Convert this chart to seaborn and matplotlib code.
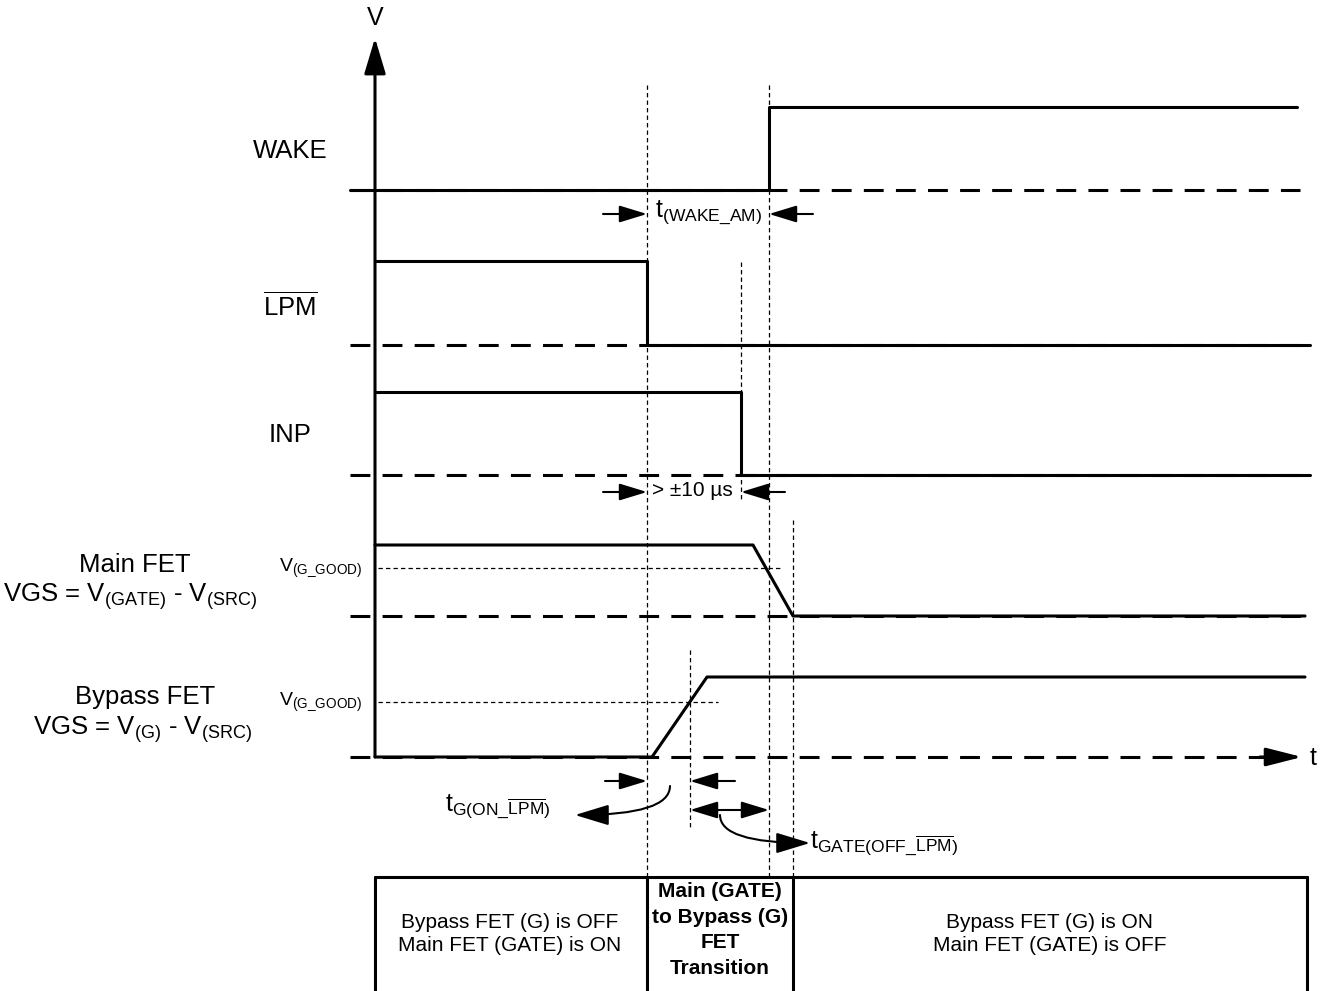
import numpy as np
import pandas as pd
import matplotlib
matplotlib.use('Agg')
import matplotlib.pyplot as plt
import seaborn as sns

# --- waveform data (time in drawing units, level 0 = low, 1 = high) ---
lanes = ['WAKE', 'LPM', 'INP', 'Main FET', 'Bypass FET']
lane_base = [190, 345, 475, 616, 757]
lane_high = [107, 261, 392, 545, 677]

wake_t = [350, 769, 769, 1297]
wake_v = [0, 0, 1, 1]
lpm_t = [375, 647, 647, 1310]
lpm_v = [1, 1, 0, 0]
inp_t = [375, 741, 741, 1310]
inp_v = [1, 1, 0, 0]
gate_t = [375, 753, 793, 1305]
gate_v = [1, 1, 0, 0]
g_t = [375, 652, 707, 1305]
g_v = [0, 0, 1, 1]
g_good = [0.68, 0.69]          # V(G_GOOD) threshold as fraction of high level
baseline_end = [1300, 1310, 1310, 1305, 1275]

# timing markers
t_lpm, t_g_good, t_inp, t_wake, t_gate_off = 647, 690, 741, 769, 793
t_origin = 375

sns.set_theme(style='white')
plt.rcParams['font.family'] = ['Liberation Sans', 'DejaVu Sans']
plt.rcParams['text.color'] = 'black'
plt.rcParams['mathtext.fontset'] = 'custom'
plt.rcParams['mathtext.rm'] = 'Liberation Sans'
plt.rcParams['mathtext.it'] = 'Liberation Sans:italic'
plt.rcParams['mathtext.bf'] = 'Liberation Sans:bold'

fig = plt.figure(figsize=(13.24, 9.91), dpi=100)
ax = fig.add_axes([0, 0, 1, 1])
ax.set_xlim(0, 1324)
ax.set_ylim(991, 0)
ax.axis('off')

K = 'black'
LW = 2.2
thick_dash = (0, (6.5, 4))
thin_dash = (0, (3.5, 2.5))


def lvl(v, i):
    return [lane_base[i] - x * (lane_base[i] - lane_high[i]) for x in v]


# dashed zero lines
for i in range(5):
    ax.plot([350, baseline_end[i]], [lane_base[i]] * 2, color=K, lw=LW, ls=thick_dash)

# waveforms
for i, (tt, vv) in enumerate([(wake_t, wake_v), (lpm_t, lpm_v), (inp_t, inp_v),
                              (gate_t, gate_v), (g_t, g_v)]):
    df = pd.DataFrame({'t': tt, 'v': lvl(vv, i)})
    sns.lineplot(data=df, x='t', y='v', sort=False, estimator=None,
                 color=K, lw=LW, ax=ax, legend=False)
ax.set_xlim(0, 1324)
ax.set_ylim(991, 0)
ax.set_xlabel('')
ax.set_ylabel('')

# axes arrows
ax.annotate('', xy=(375, 38), xytext=(375, 757),
            arrowprops=dict(arrowstyle='-|>,head_length=1.1,head_width=0.33',
                            mutation_scale=20, color=K, lw=LW, shrinkA=0, shrinkB=0))
ax.annotate('', xy=(1302, 757), xytext=(1260, 757),
            arrowprops=dict(arrowstyle='-|>,head_length=1.1,head_width=0.28',
                            mutation_scale=20, color=K, lw=LW, shrinkA=0, shrinkB=0))
ax.text(375, 18, 'V', fontsize=18, ha='center', va='center')
ax.text(1313, 758, 't', fontsize=18, ha='center', va='center')

# thin dashed guide lines
for x, y0, y1 in [(t_lpm, 85, 991), (t_wake, 85, 877), (t_inp, 262, 500),
                  (t_gate_off, 520, 877), (t_g_good, 650, 828)]:
    ax.plot([x, x], [y0, y1], color=K, lw=0.9, ls=thin_dash)
yg_main = lvl([g_good[0]], 3)[0]
yg_byp = lvl([g_good[1]], 4)[0]
ax.plot([378, 783], [yg_main] * 2, color=K, lw=0.9, ls=thin_dash)
ax.plot([378, 718], [yg_byp] * 2, color=K, lw=0.9, ls=thin_dash)

# signal labels
ax.text(290, 151, 'WAKE', fontsize=18.5, ha='center', va='center')
ax.text(290, 306, r'$\overline{\mathrm{LPM}}$', fontsize=18.5, ha='center', va='center')
ax.text(290, 435, 'INP', fontsize=18.5, ha='center', va='center')
ax.text(135, 565, 'Main FET', fontsize=18.5, ha='center', va='center')
ax.text(130, 597, r'VGS = V$_{\mathrm{(GATE)}}$ - V$_{\mathrm{(SRC)}}$', fontsize=18.5,
        ha='center', va='center')
ax.text(145, 697, 'Bypass FET', fontsize=18.5, ha='center', va='center')
ax.text(143, 730, r'VGS = V$_{\mathrm{(G)}}$ - V$_{\mathrm{(SRC)}}$', fontsize=18.5,
        ha='center', va='center')
for yy in [yg_main, yg_byp]:
    ax.text(362, yy, r'V$_{\mathrm{(G\_GOOD)}}$', fontsize=14, ha='right', va='center')


def arrow(x0, x1, y, style='-|>'):
    ax.annotate('', xy=(x1, y), xytext=(x0, y),
                arrowprops=dict(arrowstyle=style + ',head_length=0.85,head_width=0.26',
                                mutation_scale=20, color=K, lw=1.5, shrinkA=0, shrinkB=0))


# timing annotations
arrow(603, t_lpm, 214)
arrow(813, t_wake, 214)
ax.text(655, 212, r't$_{\mathrm{(WAKE\_AM)}}$', fontsize=18, ha='left', va='center')
arrow(603, t_lpm, 492)
arrow(785, t_inp, 492)
ax.text(652, 491, '> ±10 µs', fontsize=15, ha='left', va='center')

arrow(605, t_lpm, 781)
arrow(735, t_g_good, 781)
arrow(t_g_good, t_wake, 810, style='<|-|>')
ax.annotate('', xy=(575, 815), xytext=(670, 786),
            arrowprops=dict(arrowstyle='-|>,head_length=1.05,head_width=0.32',
                            mutation_scale=20, color=K, lw=1.5, shrinkA=0, shrinkB=0,
                            connectionstyle='angle3,angleA=-90,angleB=0'))
ax.annotate('', xy=(810, 843), xytext=(720, 815),
            arrowprops=dict(arrowstyle='-|>,head_length=1.05,head_width=0.32',
                            mutation_scale=20, color=K, lw=1.5, shrinkA=0, shrinkB=0,
                            connectionstyle='angle3,angleA=-90,angleB=0'))
ax.text(445, 806, r't$_{\mathrm{G(ON\_}\overline{\mathrm{LPM}}\mathrm{)}}$', fontsize=18,
        ha='left', va='center')
ax.text(810, 843, r't$_{\mathrm{GATE(OFF\_}\overline{\mathrm{LPM}}\mathrm{)}}$', fontsize=18,
        ha='left', va='center')

# state table
ax.plot([375, 1307], [877, 877], color=K, lw=LW)
for x in [375, t_lpm, t_gate_off, 1307]:
    ax.plot([x, x], [877, 995], color=K, lw=LW)
ax.text(510, 934, 'Bypass FET (G) is OFF\nMain FET (GATE) is ON', fontsize=15,
        ha='center', va='center', linespacing=1.3)
ax.text(720, 930, 'Main (GATE)\nto Bypass (G)\nFET\nTransition', fontsize=15,
        fontweight='bold', ha='center', va='center', linespacing=1.45)
ax.text(1050, 934, 'Bypass FET (G) is ON\nMain FET (GATE) is OFF', fontsize=15,
        ha='center', va='center', linespacing=1.3)

fig.savefig('out.png', dpi=100, facecolor='white')
